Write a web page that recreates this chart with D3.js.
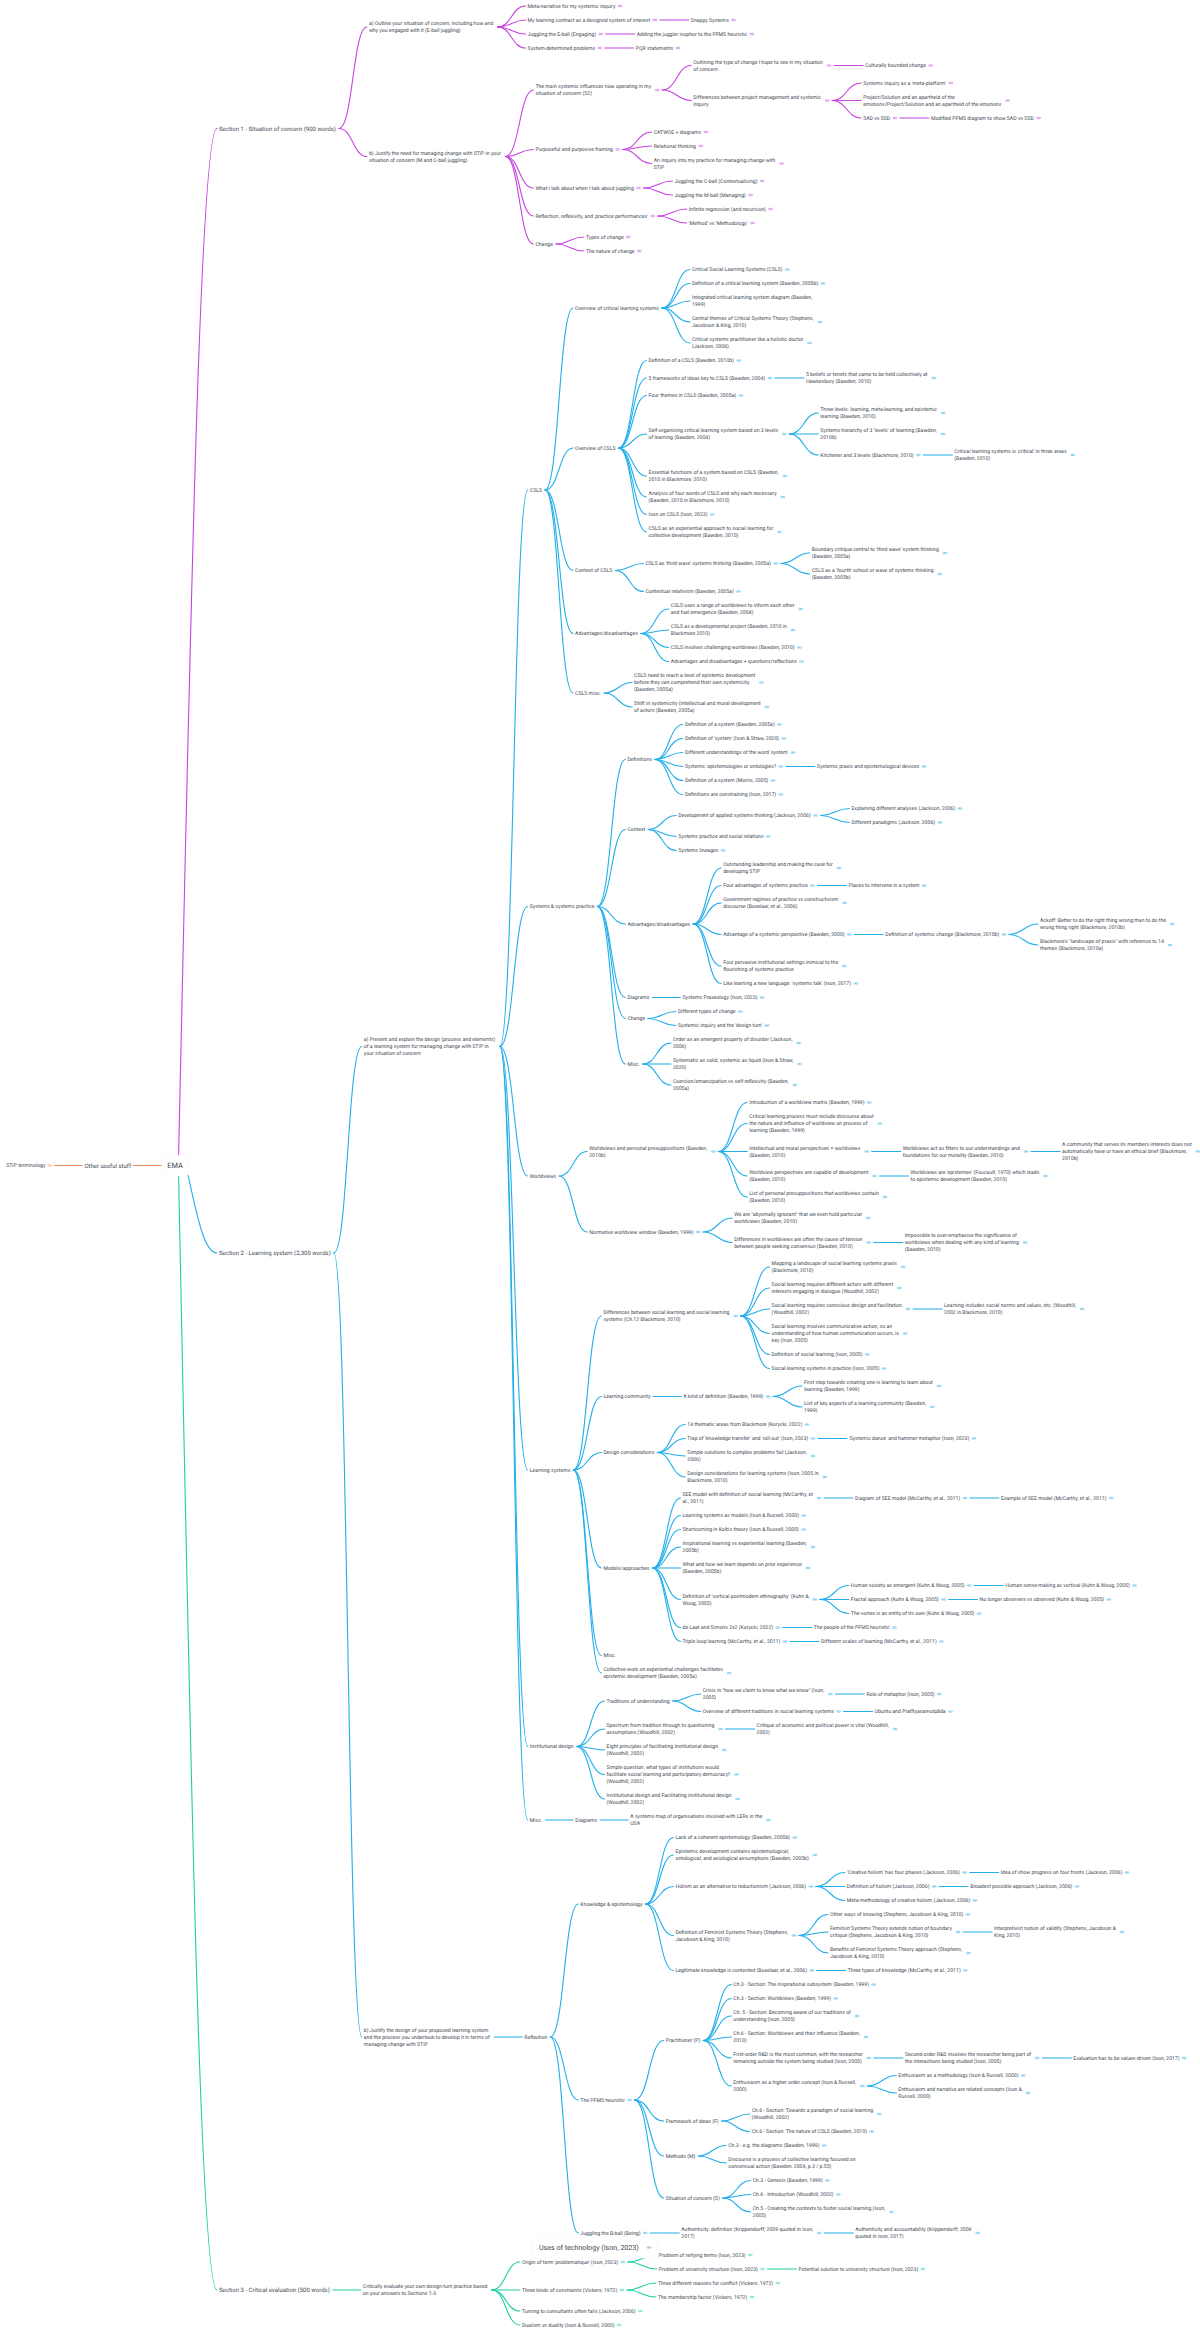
<!DOCTYPE html>
<html>
<head>
<meta charset="utf-8">
<title>EMA</title>
<script src="https://cdn.jsdelivr.net/npm/d3@7"></script>
<style>
  html, body { margin: 0; padding: 0; background: #fff; }
  svg { display: block; }
  text { font-family: Roboto, sans-serif; fill: #3f4953; text-rendering: geometricPrecision; }
</style>
</head>
<body>
<svg id="map" width="1200" height="2331"></svg>
<script>
'use strict';
// Outlines: indent = depth, "|" = line break, trailing "~" = node has a link icon

var rootLabel = "EMA";
var floatingLabel = "Uses of technology (Ison, 2023)";

var leftOutline = [
  "Other useful stuff",
  "  STiP terminology~"
];

var section1Outline = [
  "Section 1 - Situation of concern (900 words)",
  "  a) Outline your situation of concern, including how and|why you engaged with it (E-ball juggling)",
  "    Meta-narrative for my systemic inquiry~",
  "    My learning contract as a designed system of interest~",
  "      Snappy Systems~",
  "    Juggling the E-ball (Engaging)~",
  "      Adding the juggler isophor to the PFMS heuristic~",
  "    System-determined problems~",
  "      PQR statements~",
  "  b) Justify the need for managing change with STiP in your|situation of concern (M and C-ball juggling)",
  "    The main systemic influences now operating in my|situation of concern (S2)~",
  "      Outlining the type of change I hope to see in my situation|of concern~",
  "        Culturally bounded change~",
  "      Differences between project management and systemic|inquiry~",
  "        Systems inquiry as a 'meta-platform'~",
  "        Project/Solution and an apartheid of the|emotions/Project/Solution and an apartheid of the emotions~",
  "        SAD vs SSD~",
  "          Modified PFMS diagram to show SAD vs SSD~",
  "    Purposeful and purposive framing~",
  "      CATWOE + diagrams~",
  "      Relational thinking~",
  "      An inquiry into my practice for managing change with|STiP~",
  "    What I talk about when I talk about juggling~",
  "      Juggling the C-ball (Contextualising)~",
  "      Juggling the M-ball (Managing)~",
  "    Reflection, reflexivity, and 'practice performances'~",
  "      Infinite regression (and recursion)~",
  "      'Method' vs 'Methodology'~",
  "    Change",
  "      Types of change~",
  "      The nature of change~"
];

var cslsOutline = [
  "CSLS",
  "  Overview of critical learning systems",
  "    Critical Social Learning Systems (CSLS)~",
  "    Definition of a critical learning system (Bawden, 2005b)~",
  "    Integrated critical learning system diagram (Bawden,|1999)",
  "    Central themes of Critical Systems Theory (Stephens,|Jacobson & King, 2010)~",
  "    Critical systems practitioner like a holistic doctor|(Jackson, 2006)~",
  "  Overview of CSLS",
  "    Definition of a CSLS (Bawden, 2010b)~",
  "    5 frameworks of ideas key to CSLS (Bawden, 2004)~",
  "      5 beliefs or tenets that came to be held collectively at|Hawkesbury (Bawden, 2010)~",
  "    Four themes in CSLS (Bawden, 2005a)~",
  "    Self-organising critical learning system based on 3 levels|of learning (Bawden, 2004)~",
  "      Three levels: learning, meta-learning, and epistemic|learning (Bawden, 2010)~",
  "      Systems hierarchy of 3 'levels' of learning (Bawden,|2010b)~",
  "      Kitchener and 3 levels (Blackmore, 2010)~",
  "        Critical learning systems is 'critical' in three areas|(Bawden, 2010)~",
  "    Essential functions of a system based on CSLS (Bawden,|2010 in Blackmore, 2010)~",
  "    Analysis of four words of CSLS and why each necessary|(Bawden, 2010 in Blackmore, 2010)~",
  "    Ison on CSLS (Ison, 2023)~",
  "    CSLS as an experiential approach to social learning for|collective development (Bawden, 2010)~",
  "  Context of CSLS",
  "    CSLS as 'third wave' systems thinking (Bawden, 2005a)~",
  "      Boundary critique central to 'third wave' system thinking|(Bawden, 2005a)~",
  "      CSLS as a 'fourth' school or wave of systems thinking|(Bawden, 2005b)~",
  "    Contextual relativism (Bawden, 2005a)~",
  "  Advantages/disadvantages",
  "    CSLS uses a range of worldviews to inform each other|and fuel emergence (Bawden, 2004)~",
  "    CSLS as a developmental project (Bawden, 2010 in|Blackmore 2010)~",
  "    CSLS involves challenging worldviews (Bawden, 2010)~",
  "    Advantages and disadvantages + questions/reflections~",
  "  CSLS misc.",
  "    CSLS need to reach a level of epistemic development|before they can comprehend their own systemicity|(Bawden, 2005a)~",
  "    Shift in systemicity (intellectual and moral development|of actors (Bawden, 2005a)~"
];

var systemsPracticeOutline = [
  "Systems & systems practice",
  "  Definitions",
  "    Definition of a system (Bawden, 2005a)~",
  "    Definition of 'system' (Ison & Straw, 2020)~",
  "    Different understandings of the word 'system'~",
  "    Systems: epistemologies or ontologies?~",
  "      Systemic praxis and epistemological devices~",
  "    Definition of a system (Morris, 2005)~",
  "    Definitions are constraining (Ison, 2017)~",
  "  Context",
  "    Development of applied systems thinking (Jackson, 2006)~",
  "      Explaining different analyses (Jackson, 2006)~",
  "      Different paradigms (Jackson, 2006)~",
  "    Systems practice and social relations~",
  "    Systems lineages~",
  "  Advantages/disadvantages",
  "    Outstanding leadership and making the case for|developing STiP~",
  "    Four advantages of systems practice~",
  "      Places to intervene in a system~",
  "    Government regimes of practice vs constructivism|discourse (Boxelaar, et al., 2006)~",
  "    Advantage of a systemic perspective (Bawden, 2000)~",
  "      Definition of systemic change (Blackmore, 2010b)~",
  "        Ackoff: Better to do the right thing wrong than to do the|wrong thing right (Blackmore, 2010b)~",
  "        Blackmore's \"landscape of praxis\" with reference to 14|themes (Blackmore, 2010a)~",
  "    Four pervasive institutional settings inimical to the|flourishing of systems practice~",
  "    Like learning a new language: 'systems talk' (Ison, 2017)~",
  "  Diagrams",
  "    Systems Praxeology (Ison, 2023)~",
  "  Change",
  "    Different types of change~",
  "    Systemic inquiry and the 'design turn'~",
  "  Misc.",
  "    Order as an emergent property of disorder (Jackson,|2006)~",
  "    Systematic as solid, systemic as liquid (Ison & Straw,|2020)~",
  "    Coercion/emancipation vs self-reflexivity (Bawden,|2005a)~"
];

var worldviewsOutline = [
  "Worldviews",
  "  Worldviews and personal presuppositions (Bawden,|2010b)~",
  "    Introduction of a worldview matrix (Bawden, 1999)~",
  "    Critical learning process must include discourse about|the nature and influence of worldview on process of|learning (Bawden, 1999)~",
  "    Intellectual and moral perspectives = worldviews|(Bawden, 2010)~",
  "      Worldviews act as filters to our understandings and|foundations for our morality (Bawden, 2010)~",
  "        A community that serves its members interests does not|automatically have or have an ethical brief (Blackmore,|2010b)~",
  "    Worldview perspectives are capable of development|(Bawden, 2010)~",
  "      Worldviews are 'epistemes' (Foucault, 1970) which leads|to epistemic development (Bawden, 2010)~",
  "    List of personal presuppositions that worldviews contain|(Bawden, 2010)~",
  "  Normative worldview window (Bawden, 1999)~",
  "    We are \"abysmally ignorant\" that we even hold particular|worldviews (Bawden, 2010)~",
  "    Differences in worldviews are often the cause of tension|between people seeking consensus (Bawden, 2010)~",
  "      Impossible to over-emphasise the significance of|worldviews when dealing with any kind of learning|(Bawden, 2010)~"
];

var learningSystemsOutline = [
  "Learning systems",
  "  Differences between social learning and social learning|systems (Ch.12 Blackmore, 2010)~",
  "    Mapping a landscape of social learning systems praxis|(Blackmore, 2010)~",
  "    Social learning requires different actors with different|interests engaging in dialogue (Woodhill, 2002)~",
  "    Social learning requires conscious design and facilitation|(Woodhill, 2002)~",
  "      Learning includes social norms and values, etc. (Woodhill,|2002 in Blackmore, 2010)~",
  "    Social learning involves communicative action, so an|understanding of how human communication occurs, is|key (Ison, 2005)~",
  "    Definition of social learning (Ison, 2005)~",
  "    Social learning systems in practice (Ison, 2005)~",
  "  Learning community",
  "    A kind of definition (Bawden, 1999)~",
  "      First step towards creating one is learning to learn about|learning (Bawden, 1999)~",
  "      List of key aspects of a learning community (Bawden,|1999)~",
  "  Design considerations",
  "    14 thematic areas from Blackmore (Korycki, 2022)~",
  "    Trap of 'knowledge transfer' and 'roll-out' (Ison, 2023)~",
  "      'Systemic dance' and hammer metaphor (Ison, 2023)~",
  "    Simple solutions to complex problems fail (Jackson,|2006)~",
  "    Design considerations for learning systems (Ison, 2005 in|Blackmore, 2010)~",
  "  Models/approaches",
  "    SEE model with definition of social learning (McCarthy, et|al., 2011)~",
  "      Diagram of SEE model (McCarthy, et al., 2011)~",
  "        Example of SEE model (McCarthy, et al., 2011)~",
  "    Learning systems as models (Ison & Russell, 2000)~",
  "    Shortcoming in Kolb's theory (Ison & Russell, 2000)~",
  "    Inspirational learning vs experiential learning (Bawden,|2005b)~",
  "    What and how we learn depends on prior experience|(Bawden, 2005b)~",
  "    Definition of 'vortical postmodern ethnography' (Kuhn &|Woog, 2005)~",
  "      Human society as emergent (Kuhn & Woog, 2005)~",
  "        Human sense-making as vortical (Kuhn & Woog, 2005)~",
  "      Fractal approach (Kuhn & Woog, 2005)~",
  "        No longer observers vs observed (Kuhn & Woog, 2005)~",
  "      The vortex is an entity of its own (Kuhn & Woog, 2005)~",
  "    de Laat and Simons 2x2 (Korycki, 2022)~",
  "      The people of the PFMS heuristic~",
  "    Triple loop learning (McCarthy, et al., 2011)~",
  "      Different scales of learning (McCarthy, et al., 2011)~",
  "  Misc.",
  "  Collective work on experiential challenges facilitates|epistemic development (Bawden, 2005a)~"
];

var institutionalOutline = [
  "Institutional design",
  "  Traditions of understanding",
  "    Crisis in \"how we claim to know what we know\" (Ison,|2005)~",
  "      Role of metaphor (Ison, 2005)~",
  "    Overview of different traditions in social learning systems~",
  "      Ubuntu and Pratītyasamutpāda~",
  "  Spectrum from tradition through to questioning|assumptions (Woodhill, 2002)~",
  "    Critique of economic and political power is vital (Woodhill,|2002)~",
  "  Eight principles of facilitating institutional design|(Woodhill, 2002)~",
  "  Simple question: what types of institutions would|facilitate social learning and participatory democracy?|(Woodhill, 2002)~",
  "  Institutional design and Facilitating institutional design|(Woodhill, 2002)~"
];

var section2MiscOutline = [
  "Misc.",
  "  Diagrams",
  "    A systems map of organisations involved with LERs in the|USA~"
];

var reflectionOutline = [
  "Reflection",
  "  Knowledge & epistemology",
  "    Lack of a coherent epistemology (Bawden, 2005b)~",
  "    Epistemic development contains epistemological,|ontological, and axiological assumptions (Bawden, 2005b)~",
  "    Holism as an alternative to reductionism (Jackson, 2006)~",
  "      'Creative holism' has four phases (Jackson, 2006)~",
  "        Idea of show progress on four fronts (Jackson, 2006)~",
  "      Definition of holism (Jackson, 2006)~",
  "        Broadest possible approach (Jackson, 2006)~",
  "      Meta-methodology of creative holism (Jackson, 2006)~",
  "    Definition of Feminist Systems Theory (Stephens,|Jacobson & King, 2010)~",
  "      Other ways of knowing (Stephens, Jacobson & King, 2010)~",
  "      Feminist Systems Theory extends notion of boundary|critique (Stephens, Jacobson & King, 2010)~",
  "        Interpretivist notion of validity (Stephens, Jacobson &|King, 2010)~",
  "      Benefits of Feminist Systems Theory approach (Stephens,|Jacobson & King, 2010)~",
  "    Legitimate knowledge is contested (Boxelaar, et al., 2006)~",
  "      Three types of knowledge (McCarthy, et al., 2011)~",
  "  The PFMS heuristic~",
  "    Practitioner (P)",
  "      Ch.3 - Section: The inspirational subsystem (Bawden, 1999)~",
  "      Ch.3 - Section: Worldviews (Bawden, 1999)~",
  "      Ch. 5 - Section: Becoming aware of our traditions of|understanding (Ison, 2005)~",
  "      Ch.6 - Section: Worldviews and their influence (Bawden,|2010)~",
  "      First-order R&D is the most common, with the researcher|remaining outside the system being studied (Ison, 2005)~",
  "        Second-order R&D involves the researcher being part of|the interactions being studied (Ison, 2005)~",
  "          Evaluation has to be values-driven (Ison, 2017)~",
  "      Enthusiasm as a higher order concept (Ison & Russell,|2000)~",
  "        Enthusiasm as a methodology (Ison & Russell, 2000)~",
  "        Enthusiasm and narrative are related concepts (Ison &|Russell, 2000)~",
  "    Framework of ideas (F)",
  "      Ch.6 - Section: Towards a paradigm of social learning|(Woodhill, 2002)~",
  "      Ch.6 - Section: The nature of CSLS (Bawden, 2010)~",
  "    Methods (M)",
  "      Ch.3 - e.g. the diagrams (Bawden, 1999)~",
  "      Discourse is a process of collective learning focused on|consensual action (Bawden, 2004, p.3 / p.55)",
  "    Situation of concern (S)",
  "      Ch.3 - Genesis (Bawden, 1999)~",
  "      Ch.6 - Introduction (Woodhill, 2002)~",
  "      Ch.5 - Creating the contexts to foster social learning (Ison,|2005)~",
  "  Juggling the B-ball (Being)~",
  "    Authenticity: definition (Krippendorff, 2009 quoted in Ison,|2017)~",
  "      Authenticity and accountability (Krippendorff, 2009|quoted in Ison, 2017)~"
];

var section3Outline = [
  "Section 3 - Critical evaluation (500 words)",
  "  Critically evaluate your own design-turn practice based|on your answers to Sections 1-3.",
  "    Origin of term 'problematique' (Ison, 2023)~",
  "      Problem of reifying terms (Ison, 2023)~",
  "      Problem of university structure (Ison, 2023)~",
  "        Potential solution to university structure (Ison, 2023)~",
  "    Three kinds of constraints (Vickers, 1972)~",
  "      Three different reasons for conflict (Vickers, 1972)~",
  "      The membership factor (Vickers, 1972)~",
  "    Turning to consultants often fails (Jackson, 2006)~",
  "    Dualism vs duality (Ison & Russell, 2000)~"
];

var branchColors = ["#c645de", "#21aeea", "#1ccfa3"];
var leftColor = "#f08b55";

function parseOutline(rows) {
  var top = null, stack = [];
  rows.forEach(function(row) {
    var depth = (row.length - row.trimStart().length) / 2;
    var label = row.trim();
    var link = label.slice(-1) === "~";
    if (link) label = label.slice(0, -1);
    var node = { lines: label.split("|"), link: link, children: [] };
    if (depth === 0) top = node;
    else stack[depth - 1].children.push(node);
    stack[depth] = node;
  });
  return top;
}

function graft(node, rows) {
  node.children.push(parseOutline(rows));
}

var section2 = {
  lines: ["Section 2 - Learning system (2,300 words)"], link: false,
  children: [
    { lines: ["a) Present and explain the design (process and elements)",
              "of a learning system for managing change with STiP in",
              "your situation of concern"], link: false, children: [] },
    { lines: ["b) Justify the design of your proposed learning system",
              "and the process you undertook to develop it in terms of",
              "managing change with STiP"], link: false, children: [] }
  ]
};
[cslsOutline, systemsPracticeOutline, worldviewsOutline, learningSystemsOutline,
 institutionalOutline, section2MiscOutline].forEach(function(rows) { graft(section2.children[0], rows); });
graft(section2.children[1], reflectionOutline);

var rightTree = { lines: [rootLabel], children: [parseOutline(section1Outline), section2, parseOutline(section3Outline)] };
var leftTree = { lines: [rootLabel], children: [parseOutline(leftOutline)] };

var svg = d3.select("#map");
var linesG = svg.append("g").attr("fill", "none").attr("stroke-width", 1.1).attr("stroke-linecap", "round");
var nodesG = svg.append("g");

// font sizes calibrated against two labels
var probe = svg.append("text").style("font-size", "10px");
function textWidth(str, size) {
  probe.style("font-size", size + "px").text(str);
  return probe.node().getComputedTextLength();
}
var leafSize = 10 * 88 / textWidth("Meta-narrative for my systemic inquiry", 10);
var sectionSize = 10 * 112 / textWidth("Section 2 - Learning system (2,300 words)", 10);

var lineH = 7, rowPad = 7, gapNoIcon = 33, gapIcon = 40.7, wrapExtra = 1.5, sectionGap = 4.5;
var link = d3.linkHorizontal().x(function(d) { return d.x; }).y(function(d) { return d.y; });

function layout(data, dir, rootEdge, rootGap, centerY) {
  var root = d3.hierarchy(data);
  root.eachAfter(function(n) {
    var own = n.data.lines.length * lineH + rowPad;
    var kids = n.children || [];
    var gaps = n.depth === 0 ? (kids.length - 1) * sectionGap : 0;
    n.span = Math.max(own, d3.sum(kids, function(c) { return c.span; }) + gaps);
    n.size = n.depth === 1 ? sectionSize : leafSize;
    n.textW = d3.max(n.data.lines, function(l) { return textWidth(l, n.size); });
    n.extra = n.data.lines.length > 1 ? wrapExtra : 0;
  });
  root.y = centerY === null ? -1 + root.span / 2 : centerY;
  root.eachBefore(function(n) {
    if (!n.children) return;
    var gap = n.depth === 0 ? sectionGap : 0;
    var top = n.y - (d3.sum(n.children, function(c) { return c.span; }) + (n.children.length - 1) * gap) / 2;
    n.children.forEach(function(c) {
      c.y = top + c.span / 2;
      top += c.span + gap;
    });
  });
  // x runs outward from the root; textX is the left edge of the text
  root.each(function(n) {
    if (n.depth === 0) return;
    var inner = n.depth === 1 ? rootEdge + dir * rootGap : n.parent.outer;
    n.inner = inner;
    var g = (n.data.link ? gapIcon : gapNoIcon) + n.extra;
    if (dir > 0) {
      n.textX = inner;
      n.outer = inner + n.textW + g;
      n.linkFrom = inner + n.textW + n.extra + (n.data.link ? 9.7 : 3);
      n.iconX = inner + n.textW + n.extra + 4.7;
    } else {
      n.iconX = inner - 2.6;
      n.textX = inner - (n.data.link ? 7 : 0) - n.textW;
      n.outer = n.textX - gapNoIcon + 1;
      n.linkFrom = n.textX - 2.5;
    }
  });
  return root;
}

function drawIcon(sel, x, y, color) {
  var g = sel.append("g").attr("fill", "none").attr("stroke", color).attr("stroke-width", 0.6).attr("opacity", 0.8);
  g.append("ellipse").attr("cx", x - 1).attr("cy", y).attr("rx", 1).attr("ry", 0.8);
  g.append("ellipse").attr("cx", x + 1).attr("cy", y).attr("rx", 1).attr("ry", 0.8);
}

function drawTree(root, dir, colorOf) {
  root.descendants().forEach(function(n) {
    if (n.depth === 0) return;
    var color = colorOf(n);
    if (n.depth > 1) {
      linesG.append("path").attr("stroke", color)
        .attr("d", link({ source: { x: n.parent.linkFrom, y: n.parent.y }, target: { x: n.inner - dir * 2, y: n.y } }));
    }
    var t = nodesG.append("text").style("font-size", n.size + "px");
    var first = n.y - (n.data.lines.length - 1) * lineH / 2;
    n.data.lines.forEach(function(l, i) {
      t.append("tspan").attr("x", n.textX).attr("y", first + i * lineH).attr("dy", "0.35em").text(l);
    });
    if (n.data.link) drawIcon(nodesG, n.iconX, n.y, color);
  });
}

var right = layout(rightTree, 1, 188, 31, null);
var midY = right.y;
var left = layout(leftTree, -1, 162, 31, midY);

drawTree(right, 1, function(n) {
  var a = n; while (a.depth > 1) a = a.parent;
  return branchColors[right.children.indexOf(a)];
});
drawTree(left, -1, function() { return leftColor; });

// root connectors leave the box steeply, so they get their own control points
var rootStarts = [[178.6, midY - 10.5], [188, midY + 9.5], [178.6, midY + 10.5]];
right.children.forEach(function(c, i) {
  var sx = rootStarts[i][0], sy = rootStarts[i][1], tx = c.textX - 2, ty = c.y;
  var p = d3.path();
  p.moveTo(sx, sy);
  p.bezierCurveTo(sx + (tx - sx) * 0.3, sy + (ty - sy) * 0.5, tx - (tx - sx) * 0.45, ty, tx, ty);
  linesG.append("path").attr("stroke", branchColors[i]).attr("d", p.toString());
});
left.children.forEach(function(c) {
  linesG.append("path").attr("stroke", leftColor)
    .attr("d", link({ source: { x: 162, y: midY }, target: { x: c.inner + 2, y: c.y } }));
});

// central box and the floating node sit on top of the branches
svg.append("rect").attr("x", 162).attr("y", midY - 10.5).attr("width", 26).attr("height", 21).attr("rx", 2)
  .attr("fill", "#fff").attr("stroke", "#f4f5f6").attr("stroke-width", 0.6);
svg.append("text").attr("x", 175).attr("y", midY).attr("dy", "0.35em").attr("text-anchor", "middle")
  .style("font-size", "7.4px").text(rootLabel);

svg.append("rect").attr("x", 533).attr("y", 2237).attr("width", 125).attr("height", 21).attr("rx", 2)
  .attr("fill", "#fff").attr("stroke", "#f4f5f6").attr("stroke-width", 0.6);
svg.append("text").attr("x", 539).attr("y", 2247.5).attr("dy", "0.35em")
  .style("font-size", "7.1px").text(floatingLabel);
drawIcon(svg, 649, 2247.5, "#7d8790");

probe.remove();
</script>
</body>
</html>
